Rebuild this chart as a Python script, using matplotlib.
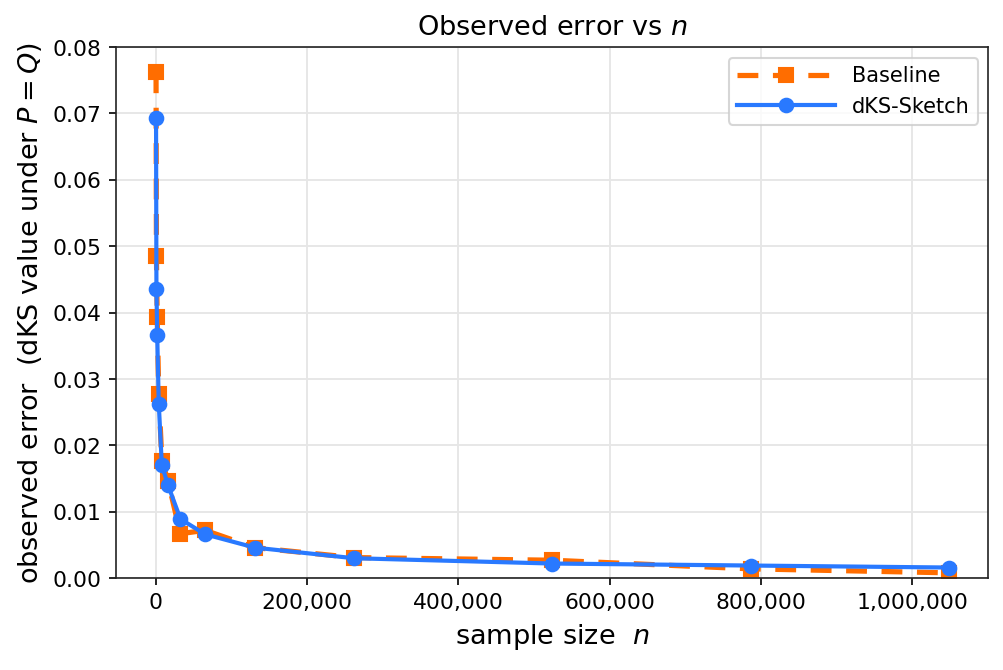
import matplotlib
matplotlib.use("Agg")
import matplotlib.pyplot as plt
from matplotlib.ticker import FuncFormatter

# sample sizes
n_vals = [512, 1024, 2048, 4096, 8192, 16384, 32768, 65536,
          131072, 262144, 524288, 786432, 1048576]
# observed errors
baseline = [0.0762, 0.0486, 0.0393, 0.0278, 0.0177, 0.0146, 0.0067, 0.0072,
            0.0046, 0.0031, 0.0027, 0.0014, 0.0008]
sketch = [0.0693, 0.0436, 0.0367, 0.0263, 0.0170, 0.0140, 0.0089, 0.0066,
          0.0046, 0.0030, 0.0022, 0.0019, 0.0016]

fig, ax = plt.subplots(figsize=(6.69, 4.47), dpi=150)
fig.subplots_adjust(left=0.116, right=0.985, top=0.929, bottom=0.137)

ax.plot(n_vals, baseline, '--', marker='s', color='#ff6d00', lw=2.5,
        ms=6.5, dashes=(4.0, 2.8), label='Baseline', zorder=2)
ax.plot(n_vals, sketch, '-', marker='o', color='#2979ff', lw=2,
        ms=6.5, label='dKS-Sketch', zorder=3)

ax.set_ylim(0, 0.08)
ax.xaxis.set_major_formatter(FuncFormatter(lambda v, p: f'{int(v):,}'))
ax.grid(True, color='#e6e6e6', lw=0.9)
ax.set_axisbelow(True)
for s in ax.spines.values():
    s.set_color('#222222')

ax.set_title('Observed error vs $n$', fontsize=13)
ax.set_xlabel('sample size  $n$', fontsize=13)
ax.set_ylabel('observed error  (dKS value under $P = Q$)', fontsize=13)
ax.tick_params(labelsize=10.5)
ax.legend(loc='upper right', fontsize=10, handlelength=4.7)

fig.savefig('out.png')
